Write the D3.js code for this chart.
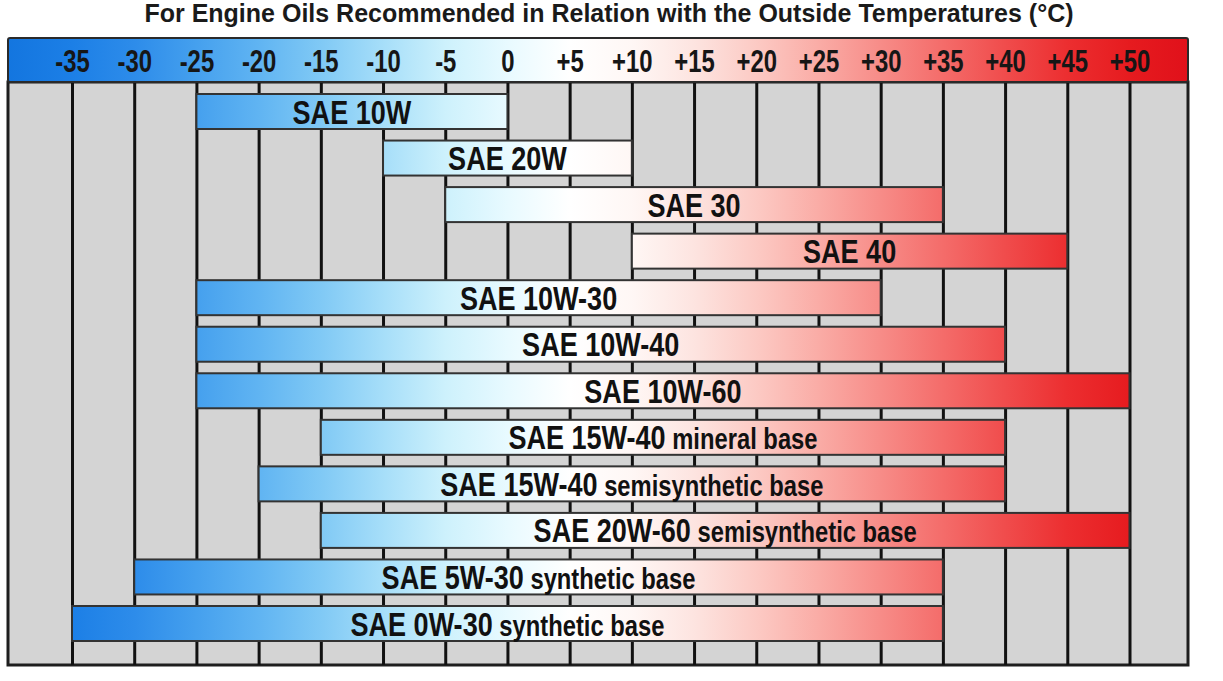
<!DOCTYPE html>
<html>
<head>
<meta charset="utf-8">
<script src="https://cdn.jsdelivr.net/npm/d3@7"></script>
<style>
  html, body { margin: 0; padding: 0; background: #ffffff; }
  svg { display: block; }
  .narrow { font-family: "Liberation Sans", Arial, sans-serif; font-weight: bold; }
</style>
</head>
<body>
<svg id="chart" width="1223" height="681"></svg>
<script>
// ---------------- DATA ----------------
const title = "For Engine Oils Recommended in Relation with the Outside Temperatures (°C)";
const tickValues = [-35, -30, -25, -20, -15, -10, -5, 0, 5, 10, 15, 20, 25, 30, 35, 40, 45, 50];
const tickLabels = ["-35", "-30", "-25", "-20", "-15", "-10", "-5", "0", "+5", "+10", "+15", "+20", "+25", "+30", "+35", "+40", "+45", "+50"];
const grades = ["SAE 10W", "SAE 20W", "SAE 30", "SAE 40", "SAE 10W-30", "SAE 10W-40", "SAE 10W-60",
                "SAE 15W-40", "SAE 15W-40", "SAE 20W-60", "SAE 5W-30", "SAE 0W-30"];
const bases = ["", "", "", "", "", "", "",
               "mineral base", "semisynthetic base", "semisynthetic base", "synthetic base", "synthetic base"];
const minTemp = [-25, -10, -5, 10, -25, -25, -25, -15, -20, -15, -30, -35];
const maxTemp = [0, 10, 35, 45, 30, 40, 50, 40, 40, 50, 35, 35];

// ---------------- STYLE ----------------
const colorStops = [
  [-41, "#1274de"], [-35, "#1c7fe6"], [-30, "#2d8cea"], [-25, "#45a0ee"], [-20, "#60b4f2"],
  [-15, "#80c9f5"], [-10, "#a6def9"], [-5, "#cdf1fc"], [0, "#e8faff"], [5, "#ffffff"],
  [10, "#fff7f5"], [15, "#fde4e0"], [20, "#fccac4"], [25, "#faaca6"], [30, "#f78c88"],
  [35, "#f46c6a"], [40, "#f04c4c"], [45, "#ec2e30"], [50, "#e61b1f"], [55, "#e0101a"]
];
const narrowScale = 0.82;
const headScale = 0.77;

const svg = d3.select("#chart");
const x = d3.scaleLinear().domain([-35, 50]).range([72, 1129.5]);
const frameLeft = 8, frameRight = 1188;
const headerTop = 38, headerBottom = 82, gridBottom = 665;
const rowIds = d3.range(grades.length);
const y = d3.scalePoint().domain(rowIds).range([111.5, 623.5]);
const barH = 35;

// gradient in user space so colour depends on temperature
const defs = svg.append("defs");
const gx0 = x(colorStops[0][0]), gx1 = x(colorStops[colorStops.length - 1][0]);
const grad = defs.append("linearGradient")
  .attr("id", "tempGrad").attr("gradientUnits", "userSpaceOnUse")
  .attr("x1", gx0).attr("x2", gx1).attr("y1", 0).attr("y2", 0);
grad.selectAll("stop").data(colorStops).join("stop")
  .attr("offset", d => (x(d[0]) - gx0) / (gx1 - gx0))
  .attr("stop-color", d => d[1]);

// title
svg.append("text")
  .attr("x", 609).attr("y", 22)
  .attr("text-anchor", "middle")
  .style("font-family", "'Liberation Sans', Arial, sans-serif")
  .style("font-weight", "bold").style("font-size", "25px").attr("fill", "#1a1a1a")
  .text(title);

// grid background
svg.append("rect")
  .attr("x", frameLeft).attr("y", headerBottom)
  .attr("width", frameRight - frameLeft).attr("height", gridBottom - headerBottom)
  .attr("fill", "#d4d4d4").attr("stroke", "#1e1e1e").attr("stroke-width", 3);

// vertical grid lines via an axis
const gridAxis = d3.axisBottom(x).tickValues(tickValues).tickSize(gridBottom - headerBottom).tickFormat("");
const gGrid = svg.append("g").attr("transform", `translate(0,${headerBottom})`).call(gridAxis);
gGrid.select(".domain").remove();
gGrid.selectAll(".tick line").attr("stroke", "#111").attr("stroke-width", 3);

// header bar
svg.append("rect")
  .attr("x", frameLeft).attr("y", headerTop)
  .attr("width", frameRight - frameLeft).attr("height", headerBottom - headerTop)
  .attr("rx", 2)
  .attr("fill", "url(#tempGrad)").attr("stroke", "#2a2a2a").attr("stroke-width", 2);

const headAxis = d3.axisBottom(x).tickValues(tickValues).tickSize(0)
  .tickFormat((d, i) => tickLabels[i]).tickPadding(0);
const gHead = svg.append("g").attr("transform", `translate(0,${headerTop})`).call(headAxis);
gHead.select(".domain").remove();
gHead.selectAll(".tick text")
  .attr("class", "narrow")
  .attr("dy", null).attr("y", 0)
  .attr("transform", `translate(0,34) scale(${headScale},1)`)
  .style("font-size", "31px").attr("fill", "#161616");

// bars
const bars = svg.append("g");
bars.selectAll("rect").data(rowIds).join("rect")
  .attr("x", i => x(minTemp[i]))
  .attr("y", i => y(i) - barH / 2)
  .attr("width", i => x(maxTemp[i]) - x(minTemp[i]))
  .attr("height", barH)
  .attr("fill", "url(#tempGrad)")
  .attr("stroke", "#333").attr("stroke-width", 2);

const labels = svg.append("g");
const lt = labels.selectAll("text").data(rowIds).join("text")
  .attr("class", "narrow")
  .attr("x", 0).attr("y", 0)
  .attr("transform", i => `translate(${(x(minTemp[i]) + x(maxTemp[i])) / 2},${y(i) + 12}) scale(${narrowScale},1)`)
  .attr("text-anchor", "middle")
  .attr("fill", "#111");
lt.append("tspan").style("font-size", "33px").text(i => grades[i]);
lt.filter(i => bases[i] !== "").append("tspan").style("font-size", "29px").text(i => " " + bases[i]);
</script>
</body>
</html>
